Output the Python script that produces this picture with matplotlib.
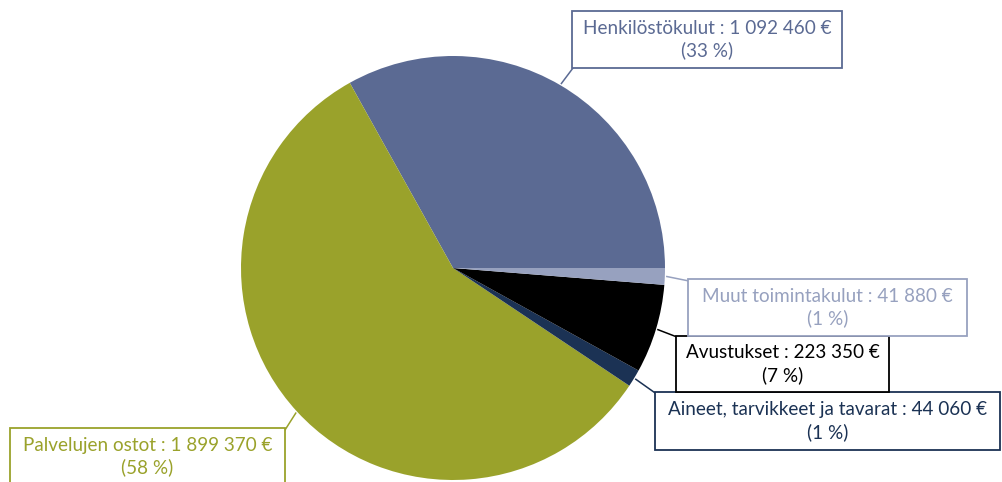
import matplotlib
matplotlib.use("Agg")
import matplotlib.pyplot as plt
from matplotlib.patches import Rectangle
import numpy as np

categories = ["Henkilöstökulut", "Palvelujen ostot", "Aineet, tarvikkeet ja tavarat",
              "Avustukset", "Muut toimintakulut"]
values = [1092460, 1899370, 44060, 223350, 41880]
value_labels = ["1 092 460 €", "1 899 370 €", "44 060 €", "223 350 €", "41 880 €"]
pct_labels = ["(33 %)", "(58 %)", "(1 %)", "(7 %)", "(1 %)"]
colors = ["#5b6a93", "#9aa22b", "#1b3254", "#000000", "#97a1bf"]
text_colors = ["#5b6a93", "#9aa22b", "#1b3254", "#000000", "#97a1bf"]

W, H = 1002, 482
fig = plt.figure(figsize=(W / 100, H / 100), dpi=100)
ax = fig.add_axes([0, 0, 1, 1])

cx, cy, r = 453, H - 268, 212
wedges, _ = ax.pie(values, colors=colors, startangle=0, counterclock=True,
                   center=(cx, cy), radius=r, wedgeprops=dict(linewidth=0),
                   frame=True)
ax.set_xlim(0, W)
ax.set_ylim(0, H)
ax.set_aspect("equal")
ax.axis("off")

# boxes: (x0, y0_top, x1, y1_bottom) in pixel coords (top-down)
boxes = [
    (572, 11, 842, 68),
    (10, 428, 285, 490),
    (655, 392, 1000, 450),
    (676, 336, 889, 392),
    (688, 279, 967, 336),
]
anchors = [(573, 68), (285, 430), (658, 395), (677, 337), (689, 281)]

for i, w in enumerate(wedges):
    x0, y0, x1, y1 = boxes[i]
    ax.add_patch(Rectangle((x0, H - y1), x1 - x0, y1 - y0, fill=True, facecolor="white",
                           edgecolor=colors[i], linewidth=1.3, zorder=3))
    ty = (y0 + 28.5) if i == 1 else (y0 + y1) / 2
    ax.text((x0 + x1) / 2, H - ty, f"{categories[i]} : {value_labels[i]}\n{pct_labels[i]}",
            ha="center", va="center", color=text_colors[i], fontsize=13.6,
            family="Lato", linespacing=1.3, zorder=4)
    mid = np.deg2rad((w.theta1 + w.theta2) / 2)
    px, py = cx + (r + 2) * np.cos(mid), cy + (r + 2) * np.sin(mid)
    ax.plot([px, anchors[i][0]], [py, H - anchors[i][1]], color=colors[i],
            linewidth=1.1, zorder=2)

fig.savefig("out.png", dpi=100)
